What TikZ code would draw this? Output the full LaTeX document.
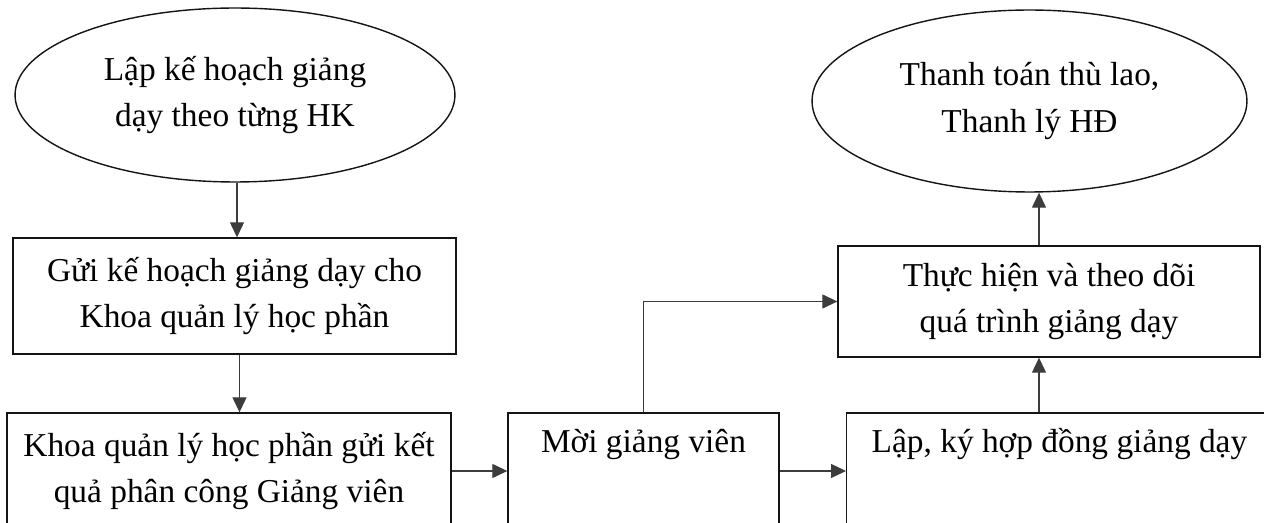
\documentclass[tikz,border=0pt]{standalone}
\usepackage{fontspec}
\setmainfont{Liberation Serif}
\usepackage{tikz}
\usetikzlibrary{shapes, arrows.meta, positioning, calc}
\definecolor{inkline}{RGB}{20, 20, 20}
\definecolor{inkarrow}{RGB}{60, 60, 60}

\begin{document}
\begin{tikzpicture}[
    x=0.02cm, y=-0.02cm,
    stepoval/.style={ellipse, draw=inkline, line width=0.8pt, inner sep=0pt, align=center, font=\fontsize{19pt}{26.7pt}\selectfont},
    stepbox/.style={rectangle, draw=inkline, line width=0.8pt, inner sep=0pt, align=center, minimum height=2.32cm, font=\fontsize{19pt}{26.7pt}\selectfont},
    flow/.style={-{Triangle[length=0.3cm, width=0.28cm]}, line width=0.7pt, inkarrow}
]
    \useasboundingbox (0, 0) rectangle (1264, 523);
    \clip (0, 0) rectangle (1264, 523);

    % Start and end of the process
    \node[stepoval, minimum width=8.8cm, minimum height=3.48cm] (plan) at (235, 95) {Lập kế hoạch giảng\\dạy theo từng HK};
    \node[stepoval, minimum width=8.7cm, minimum height=3.64cm] (pay) at (1029.5, 101) {Thanh toán thù lao,\\Thanh lý HĐ};

    % Left column
    \node[stepbox, minimum width=8.86cm] (send) at (234.5, 296) {Gửi kế hoạch giảng dạy cho\\Khoa quản lý học phần};
    \node[stepbox, minimum width=8.88cm] (assign) at (229, 471) {Khoa quản lý học phần gửi kết\\quả phân công Giảng viên};

    % Bottom row
    \node[stepbox, minimum width=5.42cm] (invite) at (643.5, 471) {Mời giảng viên\\\strut};
    \node[stepbox, anchor=west, align=flush left, text width=8.2cm, inner xsep=0.5cm] (contract) at (846, 471) {Lập, ký hợp đồng giảng dạy\\\strut};

    % Right column
    \node[stepbox, minimum width=8.44cm, minimum height=2.22cm] (follow) at (1049, 301.5) {Thực hiện và theo dõi\\quá trình giảng dạy};

    % Connectors
    \draw[flow] ([xshift=0.04cm]plan.south) -- ([xshift=0.04cm]plan.south |- send.north);
    \draw[flow] ([xshift=0.1cm]send.south) -- ([xshift=0.1cm]send.south |- assign.north);
    \draw[flow] (assign.east) -- (invite.west);
    \draw[flow] (invite.east) -- (contract.west);
    \draw[flow] (invite.north) |- (follow.west);
    \draw[flow] ([xshift=-0.2cm]follow.south |- contract.north) -- ([xshift=-0.2cm]follow.south);
    \draw[flow] ([xshift=-0.2cm]follow.north) -- ([xshift=-0.2cm]follow.north |- pay.south);
\end{tikzpicture}
\end{document}
